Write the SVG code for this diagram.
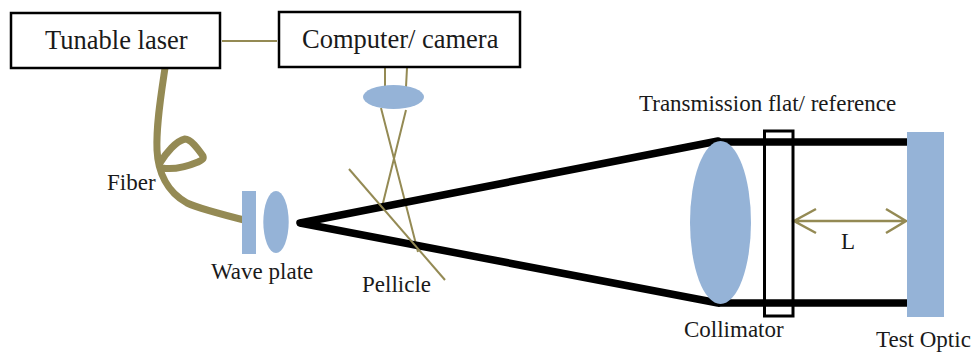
<svg xmlns="http://www.w3.org/2000/svg" width="974" height="353" viewBox="0 0 974 353">
<style>
text{font-family:"Liberation Serif","Times New Roman",serif;fill:#1a1a1a}
.l{font-size:23px}
.b{font-size:26.500px}
.blue{fill:#95b3d7}
.box{fill:#fff;stroke:#000;stroke-width:2.500}
.thin{fill:none;stroke:#948a54;stroke-width:2}
.beam{fill:none;stroke:#000;stroke-width:7.500;stroke-linecap:round;stroke-linejoin:round}
.fiber{fill:none;stroke:#948a54;stroke-width:7;stroke-linecap:round;stroke-linejoin:round}
</style>
<rect width="974" height="353" fill="#fff"/>
<g id="connectors">
<path class="thin" d="M222 41H277"/>
<path class="thin" d="M385 68V87M407 68L406 87"/>
<path class="thin" d="M381 108L418 252M406 110L382 207"/>
<path class="beam" d="M718 141L300 223L718 303"/>
<path class="beam" style="stroke-linecap:butt" d="M718 142H907M718 303H907"/>
<path class="thin" d="M349 169L445 280"/>
<path class="thin" style="stroke-width:2.500" d="M794 221H906M816 209L794 221L816 233M886 209L906 221L886 233"/>
</g>
<g id="fiber">
<path class="fiber" d="M165 68C161 95 156 125 157 150C158 172 167 192 187 203C200 209 228 216 248 221"/>
<path class="fiber" d="M160 163C166 153 176 141 185 139C191 139 198 149 203 156C204 159 202 160 198 162C186 167 174 170 162 168"/>
</g>
<g id="tunable-laser"><rect class="box" x="11" y="13" width="209" height="55"/><text class="b" x="45" y="49">Tunable laser</text></g>
<g id="computer-camera"><rect class="box" x="279" y="12" width="241" height="55"/><text class="b" x="302" y="48">Computer/ camera</text></g>
<g id="camera-lens"><ellipse class="blue" cx="393.500" cy="97" rx="30.500" ry="12"/></g>
<g id="fiber-label"><text class="l" x="107" y="190">Fiber</text></g>
<g id="wave-plate"><rect class="blue" x="242" y="191" width="14" height="63"/><text class="l" x="211" y="279">Wave plate</text></g>
<g id="focus-lens"><ellipse class="blue" cx="276" cy="222" rx="12.700" ry="31"/></g>
<g id="pellicle"><text class="l" x="362" y="292">Pellicle</text></g>
<g id="collimator"><ellipse class="blue" cx="720.500" cy="222.500" rx="30.500" ry="81.500"/><text class="l" x="684" y="337">Collimator</text></g>
<g id="transmission-flat"><rect x="764.500" y="131" width="28.500" height="185" fill="none" stroke="#000" stroke-width="3"/><text class="l" x="639" y="111">Transmission flat/ reference</text></g>
<g id="test-optic"><rect class="blue" x="907" y="132" width="37" height="185"/><text class="l" x="876" y="347">Test Optic</text></g>
<g id="distance-label"><text class="l" x="841" y="249">L</text></g>
</svg>
